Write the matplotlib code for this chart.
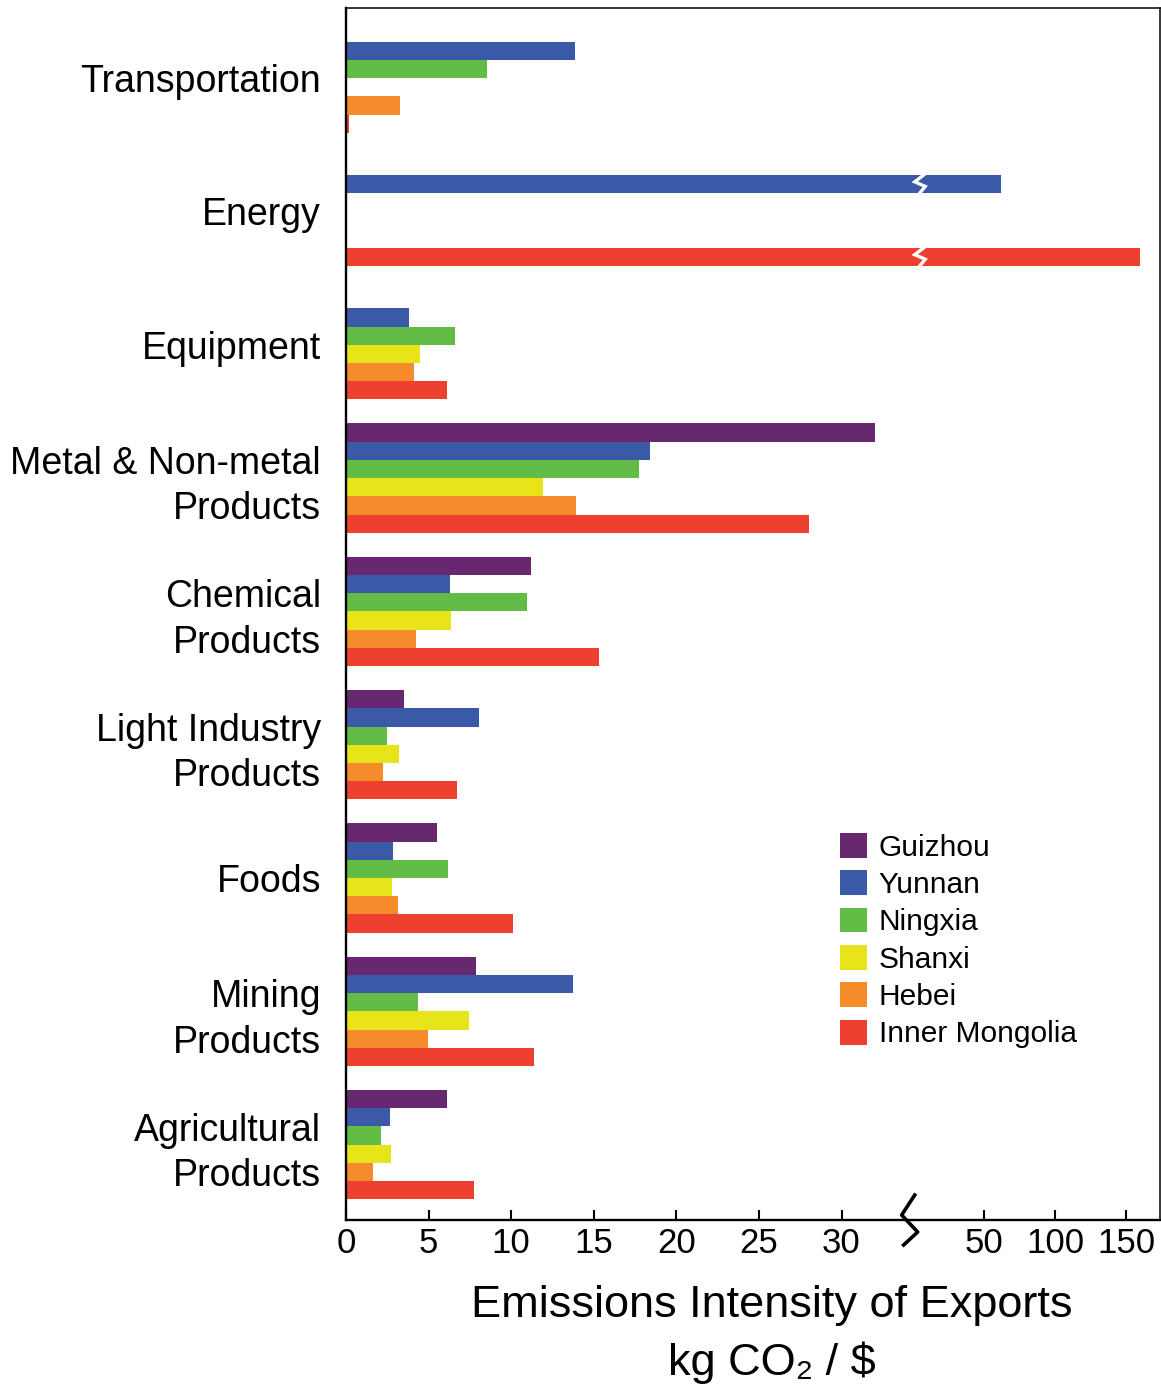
import numpy as np
import matplotlib
matplotlib.use('Agg')
import matplotlib.pyplot as plt
from matplotlib.patches import Patch

plt.rcParams['font.family'] = ['Liberation Sans', 'DejaVu Sans']

# 行业类别（自上而下）
sectors = ['Transportation', 'Energy', 'Equipment', 'Metal & Non-metal\nProducts',
           'Chemical\nProducts', 'Light Industry\nProducts', 'Foods',
           'Mining\nProducts', 'Agricultural\nProducts']

# 省份及配色
provinces = ['Guizhou', 'Yunnan', 'Ningxia', 'Shanxi', 'Hebei', 'Inner Mongolia']
colors = ['#68286F', '#3A5AA8', '#62BC45', '#E8E41A', '#F58B2B', '#EE402E']

# 出口排放强度 kg CO2 / $ （0 表示无数据）
guizhou = [0, 0, 0, 32.0, 11.2, 3.52, 5.48, 7.89, 6.09]
yunnan = [13.84, 61.6, 3.8, 18.4, 6.31, 8.03, 2.85, 13.74, 2.67]
ningxia = [8.52, 0, 6.6, 17.71, 10.93, 2.49, 6.19, 4.35, 2.13]
shanxi = [0, 0, 4.49, 11.9, 6.35, 3.2, 2.79, 7.43, 2.75]
hebei = [3.26, 0, 4.11, 13.9, 4.21, 2.25, 3.14, 4.96, 1.62]
inner_mongolia = [0.2, 160.0, 6.11, 28.03, 15.3, 6.7, 10.08, 11.41, 7.73]

series = [guizhou, yunnan, ningxia, shanxi, hebei, inner_mongolia]

xticks = [0, 5, 10, 15, 20, 25, 30, 50, 100, 150]

# 断轴：35 以内线性，50 以上压缩
knots_data = [0, 35, 50, 150, 250]
knots_disp = [0, 35, 38.65, 47.24, 55.83]


def forward(x):
    return np.interp(x, knots_data, knots_disp)


def inverse(x):
    return np.interp(x, knots_disp, knots_data)


fig = plt.figure(figsize=(11.61, 13.88), dpi=100)
ax = fig.add_axes([346 / 1161, 1 - 1220 / 1388, 814 / 1161, 1212 / 1388])
ax.set_xscale('function', functions=(forward, inverse))

bar_h = 0.1366
centers = np.arange(len(sectors))
for j, (vals, c, name) in enumerate(zip(series, colors, provinces)):
    y = centers + (j - 2.5) * bar_h
    ax.barh(y, vals, height=bar_h, color=c, edgecolor='none', label=name)

ax.set_xlim(0, inverse(49.28))
ax.set_ylim(len(sectors) - 1 + 0.565, -0.526)

# 能源类长条上的白色断开标记
for j in (1, 5):
    yc = centers[1] + (j - 2.5) * bar_h
    zx = [34.97, 34.43, 35.28, 34.73]
    zy = [yc - bar_h / 2, yc - bar_h / 8, yc + bar_h / 8, yc + bar_h / 2]
    ax.plot(zx, zy, color='white', lw=2.4, solid_joinstyle='miter')

# 坐标轴断开标记
ax.plot([34.43, 33.64, 34.61, 33.76], [0.0206, 0.0041, -0.0099, -0.0206],
        color='black', lw=2.6, clip_on=False,
        transform=ax.get_xaxis_transform(), zorder=5)

ax.set_xticks(xticks)
ax.set_xticklabels([str(t) for t in xticks], fontsize=25)
ax.tick_params(axis='x', direction='in', length=7.5, width=1.5, pad=5)
ax.set_yticks(centers)
ax.set_yticklabels(sectors, fontsize=27)
ax.tick_params(axis='y', length=0, pad=18)
for lab in ax.get_yticklabels():
    lab.set_linespacing(1.33)

for side in ['left', 'bottom']:
    ax.spines[side].set_linewidth(1.7)
for side in ['top', 'right']:
    ax.spines[side].set_linewidth(1.1)

handles = [Patch(facecolor=c, edgecolor='none') for c in colors]
fig.legend(handles, provinces, loc='upper left',
           bbox_to_anchor=(840 / 1161, 1 - 833 / 1388), frameon=False,
           fontsize=21.5, handlelength=0.9, handleheight=0.9,
           handletextpad=0.4, labelspacing=0.29, borderpad=0, borderaxespad=0)

fig.text(772 / 1161, 1 - 1306 / 1388, 'Emissions Intensity of Exports',
         ha='center', va='center', fontsize=32.5)
fig.text(772 / 1161, 1 - 1363 / 1388, 'kg CO₂ / $',
         ha='center', va='center', fontsize=32.5)

fig.savefig('out.png', dpi=100)
